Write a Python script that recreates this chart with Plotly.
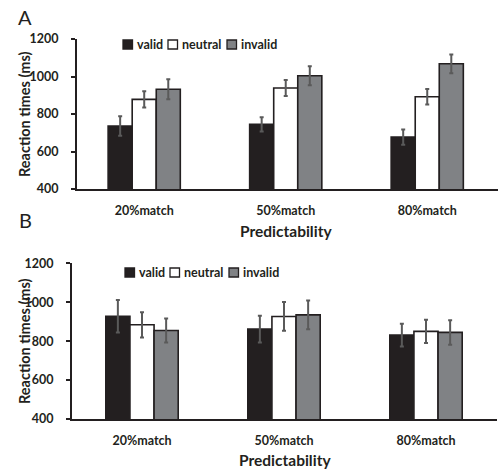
import plotly.graph_objects as go
from plotly.subplots import make_subplots

W, H = 499, 470
categories = ["20%match", "50%match", "80%match"]
series = ["valid", "neutral", "invalid"]

# Panel A
a_valid = [736, 745, 677]
a_neutral = [878, 939, 892]
a_invalid = [932, 1004, 1068]
a_valid_err = [52, 38, 41]
a_neutral_err = [43, 43, 41]
a_invalid_err = [53, 51, 50]

# Panel B
b_valid = [928, 862, 831]
b_neutral = [884, 927, 850]
b_invalid = [855, 935, 845]
b_valid_err = [83, 69, 58]
b_neutral_err = [65, 74, 60]
b_invalid_err = [62, 74, 63]

y_ticks = [400, 600, 800, 1000, 1200]

fills = {"valid": "#231f20", "neutral": "#ffffff", "invalid": "#808285"}
FONT = "Lato"
TXT = "#231f20"
BOLD = "bold"

def px_x(p):
    return p / W

def px_y(p):
    return 1 - p / H

fig = make_subplots(rows=2, cols=1)

panels = [
    (1, [a_valid, a_neutral, a_invalid], [a_valid_err, a_neutral_err, a_invalid_err]),
    (2, [b_valid, b_neutral, b_invalid], [b_valid_err, b_neutral_err, b_invalid_err]),
]
for row, vals, errs in panels:
    for name, v, e in zip(series, vals, errs):
        fig.add_trace(go.Bar(
            x=categories, y=v, name=name, showlegend=False,
            marker=dict(color=fills[name], line=dict(color="#231f20", width=1.6)),
            error_y=dict(type="data", array=e, visible=True, color="#5a5a5a",
                         thickness=2, width=2),
        ), row=row, col=1)

axis_common = dict(showgrid=False, zeroline=False, showline=True, automargin=False,
                   linecolor="#231f20", linewidth=2)

fig.update_xaxes(domain=[px_x(77), px_x(498)], range=[-0.475, 2.5], row=1, col=1)
fig.update_xaxes(domain=[px_x(72), px_x(497)], range=[-0.493, 2.5], row=2, col=1)
fig.update_xaxes(ticks="", ticklabelstandoff=9,
                 tickfont=dict(family=FONT, size=12.5, color=TXT, weight=BOLD), **axis_common)

fig.update_yaxes(domain=[px_y(189), px_y(39)], row=1, col=1)
fig.update_yaxes(domain=[px_y(419), px_y(263.3)], row=2, col=1)
fig.update_yaxes(range=[400, 1200], tickvals=y_ticks, ticks="outside", ticklen=4,
                 tickwidth=2, tickcolor="#231f20", ticklabelstandoff=10,
                 tickfont=dict(family=FONT, size=12.5, color=TXT, weight=BOLD), **axis_common)

annotations = []
shapes = []

# panel letters
for letter, yp in [("A", 17), ("B", 220)]:
    annotations.append(dict(text=letter, x=px_x(25), y=px_y(yp), xref="paper", yref="paper",
                            showarrow=False, font=dict(family=FONT, size=20, color=TXT),
                            xanchor="center", yanchor="middle"))

# y titles and x titles
for ycen, xt_y, xcen in [(114, 231, 286), (341, 460, 285)]:
    annotations.append(dict(text="Reaction times (ms)", textangle=-90, x=px_x(24), y=px_y(ycen),
                            xref="paper", yref="paper", showarrow=False,
                            font=dict(family=FONT, size=14.5, color=TXT, weight=BOLD),
                            xanchor="center", yanchor="middle"))
    annotations.append(dict(text="Predictability", x=px_x(xcen), y=px_y(xt_y),
                            xref="paper", yref="paper", showarrow=False,
                            font=dict(family=FONT, size=15.5, color=TXT, weight=BOLD),
                            xanchor="center", yanchor="middle"))

# legends
legend_layouts = [
    (44.5, [123, 168, 227]),
    (272.5, [125, 170, 229]),
]
for ly, sq_x in legend_layouts:
    for name, sx in zip(series, sq_x):
        shapes.append(dict(type="rect", xref="paper", yref="paper",
                           x0=px_x(sx), x1=px_x(sx + 9.5), y0=px_y(ly + 4.5), y1=px_y(ly - 4.5),
                           fillcolor=fills[name], line=dict(color="#231f20", width=1.3)))
        annotations.append(dict(text=name, x=px_x(sx + 11.5), y=px_y(ly), xref="paper", yref="paper",
                                showarrow=False, xanchor="left", yanchor="middle",
                                font=dict(family=FONT, size=12.5, color=TXT, weight=BOLD)))

fig.update_layout(
    template="none",
    width=W, height=H, margin=dict(l=0, r=0, t=0, b=0, pad=0, autoexpand=False),
    paper_bgcolor="white", plot_bgcolor="white",
    barmode="group", bargap=0.49, bargroupgap=0, showlegend=False,
    annotations=annotations, shapes=shapes,
    font=dict(family=FONT, color=TXT),
)

fig.write_html("out.html")
